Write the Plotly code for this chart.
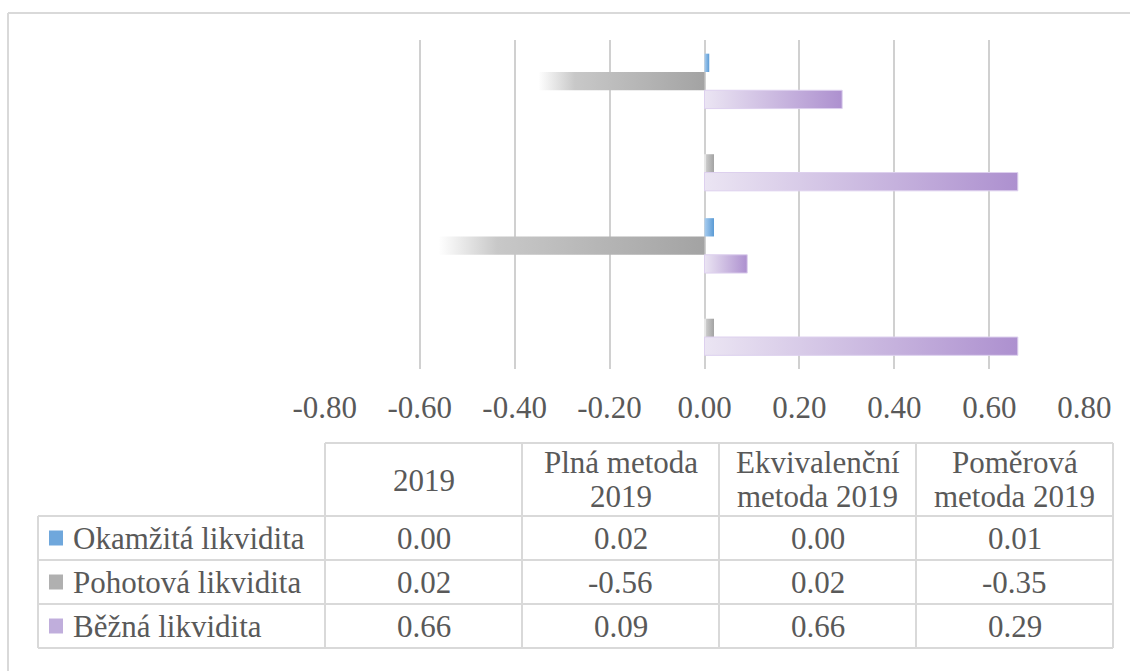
import plotly.graph_objects as go

# ---------------- data ----------------
categories = ["2019", "Plná metoda 2019", "Ekvivalenční metoda 2019", "Poměrová metoda 2019"]
header_line1 = ["2019", "Plná metoda", "Ekvivalenční", "Poměrová"]
header_line2 = ["", "2019", "metoda 2019", "metoda 2019"]
series_names = ["Okamžitá likvidita", "Pohotová likvidita", "Běžná likvidita"]
okamzita = [0.00, 0.02, 0.00, 0.01]
pohotova = [0.02, -0.56, 0.02, -0.35]
bezna = [0.66, 0.09, 0.66, 0.29]
tick_values = [-0.8, -0.6, -0.4, -0.2, 0.0, 0.2, 0.4, 0.6, 0.8]
tick_labels = ["-0.80", "-0.60", "-0.40", "-0.20", "0.00", "0.20", "0.40", "0.60", "0.80"]

series_values = [okamzita, pohotova, bezna]

# ---------------- styles / geometry ----------------
W, H = 1130, 671
L, R, T, B = 324, 45, 40, 302
PW, PH = W - L - R, H - T - B
PLOT_BOTTOM = H - B
FONT = "Liberation Serif"
TXT = "#595959"
LINE = "#d9d9d9"
GRID = "#d0d0d0"
FS = 31

scales = [
    [[0, "#a9cdef"], [1, "#5b9bd5"]],
    [[0, "rgba(255,255,255,1)"], [0.22, "#c8c8c8"], [1, "#a3a3a3"]],
    [[0, "#ebe5f3"], [1, "#ad90cf"]],
]
outline = ["rgba(0,0,0,0)", "rgba(0,0,0,0)", "#ddd0ee"]
key_colors = ["#6fa7dc", "#b0b0b0", "#c0aedc"]
offsets = [0.2225, 0.0, -0.2225]
half = 0.1113
EPS = 0.0015


def px(xp):
    return (xp - L) / PW


def py(yp):
    return (PLOT_BOTTOM - yp) / PH


fig = go.Figure()

for k, vals in enumerate(series_values):
    for i, v in enumerate(vals):
        yc = i + offsets[k]
        lo, hi = min(0.0, v), max(0.0, v)
        if hi - lo < 1e-9:
            hi = lo + 1e-6
        fig.add_trace(go.Scatter(
            x=[0, v, v, 0, 0],
            y=[yc - half, yc - half, yc + half, yc + half, yc - half],
            mode="lines",
            fill="toself",
            fillgradient=dict(type="horizontal", colorscale=scales[k], start=lo, stop=hi),
            line=dict(width=1 if k == 2 else 0, color=outline[k]),
            name=series_names[k],
            showlegend=False,
            hoverinfo="skip",
        ))

shapes = []
annotations = []

# outer chart border
shapes.append(dict(type="line", xref="paper", yref="paper", x0=px(8), x1=px(1140),
                   y0=py(13), y1=py(13), line=dict(color=LINE, width=2)))
shapes.append(dict(type="line", xref="paper", yref="paper", x0=px(8), x1=px(8),
                   y0=py(13), y1=py(690), line=dict(color=LINE, width=2)))

# data table geometry
tbl_left = 38
col_edges = [325, 522, 719, 916, 1113]
row_edges = [443, 516, 560, 604, 648]

shapes.append(dict(type="line", xref="paper", yref="paper", x0=px(col_edges[0]), x1=px(col_edges[-1]),
                   y0=py(row_edges[0]), y1=py(row_edges[0]), line=dict(color=LINE, width=2)))
for r in row_edges[1:]:
    shapes.append(dict(type="line", xref="paper", yref="paper", x0=px(tbl_left), x1=px(col_edges[-1]),
                       y0=py(r), y1=py(r), line=dict(color=LINE, width=2)))
shapes.append(dict(type="line", xref="paper", yref="paper", x0=px(tbl_left), x1=px(tbl_left),
                   y0=py(row_edges[1]), y1=py(row_edges[-1]), line=dict(color=LINE, width=2)))
for c in col_edges:
    shapes.append(dict(type="line", xref="paper", yref="paper", x0=px(c), x1=px(c),
                       y0=py(row_edges[0]), y1=py(row_edges[-1]), line=dict(color=LINE, width=2)))

for j in range(len(categories)):
    cx = (col_edges[j] + col_edges[j + 1]) / 2
    if header_line2[j]:
        annotations.append(dict(x=px(cx), y=py(463), xref="paper", yref="paper", text=header_line1[j],
                                showarrow=False, xanchor="center", yanchor="middle",
                                font=dict(family=FONT, size=FS, color=TXT)))
        annotations.append(dict(x=px(cx), y=py(496), xref="paper", yref="paper", text=header_line2[j],
                                showarrow=False, xanchor="center", yanchor="middle",
                                font=dict(family=FONT, size=FS, color=TXT)))
    else:
        annotations.append(dict(x=px(cx), y=py(480), xref="paper", yref="paper", text=header_line1[j],
                                showarrow=False, xanchor="center", yanchor="middle",
                                font=dict(family=FONT, size=FS, color=TXT)))

for k, vals in enumerate(series_values):
    top, bot = row_edges[k + 1], row_edges[k + 2]
    cy = (top + bot) / 2
    shapes.append(dict(type="rect", xref="paper", yref="paper", x0=px(49), x1=px(63),
                       y0=py(cy - 7.5), y1=py(cy + 7.5), line=dict(width=0), fillcolor=key_colors[k]))
    annotations.append(dict(x=px(71), y=py(cy), xref="paper", yref="paper", text=series_names[k],
                            showarrow=False, xanchor="left", yanchor="middle",
                            font=dict(family=FONT, size=FS, color=TXT)))
    for j, v in enumerate(vals):
        cx = (col_edges[j] + col_edges[j + 1]) / 2
        annotations.append(dict(x=px(cx), y=py(cy), xref="paper", yref="paper", text=f"{v:.2f}",
                                showarrow=False, xanchor="center", yanchor="middle",
                                font=dict(family=FONT, size=FS, color=TXT)))

fig.update_layout(
    width=W, height=H,
    margin=dict(l=L, r=R, t=T, b=B, pad=0),
    paper_bgcolor="white", plot_bgcolor="white",
    showlegend=False,
    shapes=shapes,
    annotations=annotations,
    font=dict(family=FONT, color=TXT, size=FS),
    xaxis=dict(range=[-0.8 - EPS, 0.8 + EPS], tickvals=tick_values, ticktext=tick_labels,
               showgrid=True, gridcolor=GRID, gridwidth=2,
               zeroline=True, zerolinecolor=GRID, zerolinewidth=2,
               showline=False, ticks="", ticklabelstandoff=17,
               tickfont=dict(family=FONT, size=FS, color=TXT), fixedrange=True),
    yaxis=dict(range=[-0.5, 3.5], showgrid=False, zeroline=False, showticklabels=False,
               showline=False, ticks="", fixedrange=True),
)

fig.write_html("out.html", config={"displayModeBar": False},
               post_script="document.body.style.margin='0px';")
